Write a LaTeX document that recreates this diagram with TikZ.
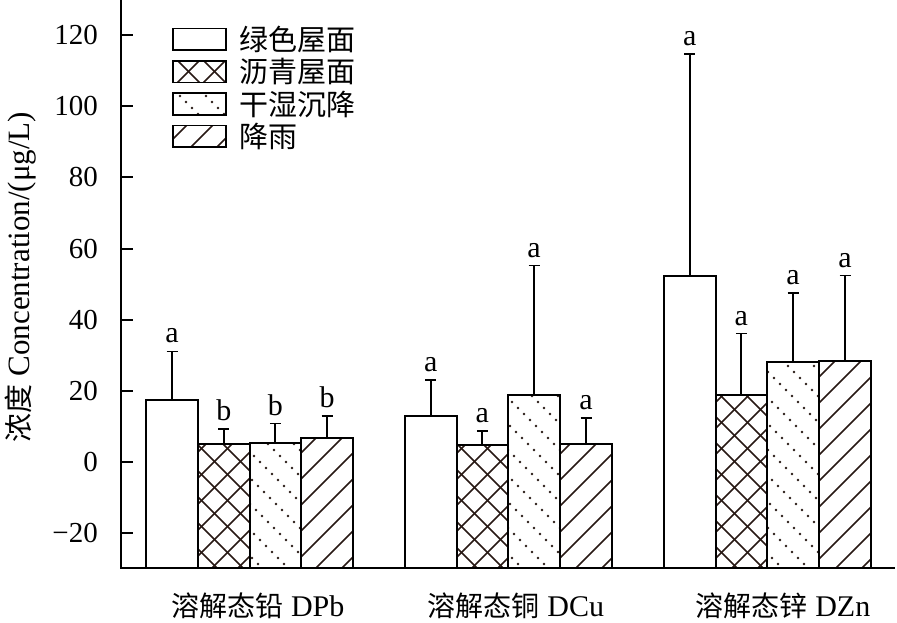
\documentclass[tikz,border=0pt]{standalone}
\usepackage{fontspec}
\setmainfont{Liberation Serif}
\newfontfamily\cjk{Noto Sans CJK SC}
\definecolor{patcol}{RGB}{40,25,20}
\tikzset{
  barline/.style={line width=2pt, black},
  legbox/.style={line width=1.6pt, black},
  patline/.style={line width=1.5pt, patcol},
  errline/.style={line width=1.6pt, black},
  axisline/.style={line width=2pt, black},
  ticklab/.style={font=\fontsize{29}{29}\selectfont, anchor=east, inner sep=0pt},
  siglab/.style={font=\fontsize{30}{30}\selectfont, anchor=base, inner sep=0pt},
  catlab/.style={font=\fontsize{30}{30}\selectfont, anchor=base, inner sep=0pt},
  leglab/.style={font=\cjk\fontsize{29}{29}\selectfont, anchor=west, inner sep=0pt},
}
\newcommand\nopat[4]{}
\newcommand\hatchNE[4]{%
  \begin{scope}
  \clip (#1,#2) rectangle (#3,#4);
  \pgfmathtruncatemacro\ks{floor((#1+#2)/26)}
  \pgfmathtruncatemacro\ke{ceil((#3+#4)/26)}
  \foreach \k in {\ks,...,\ke}{
    \pgfmathsetmacro\cc{26*\k}
    \draw[patline] (#1-5,\cc-#1+5) -- (#3+5,\cc-#3-5);
  }
  \end{scope}}
\newcommand\hatchNW[4]{%
  \begin{scope}
  \clip (#1,#2) rectangle (#3,#4);
  \pgfmathtruncatemacro\ks{floor((#1-#4)/26)-1}
  \pgfmathtruncatemacro\ke{ceil((#3-#2)/26)+1}
  \foreach \k in {\ks,...,\ke}{
    \pgfmathsetmacro\cc{26*\k+13}
    \draw[patline] (#1-5,#1-5-\cc) -- (#3+5,#3+5-\cc);
  }
  \end{scope}}
\newcommand\crosspat[4]{\hatchNE{#1}{#2}{#3}{#4}\hatchNW{#1}{#2}{#3}{#4}}
\newcommand\dotpat[4]{%
  \begin{scope}
  \clip (#1,#2) rectangle (#3,#4);
  \pgfmathtruncatemacro\ms{floor(#2/6)}
  \pgfmathtruncatemacro\me{ceil(#4/6)}
  \foreach \m in {\ms,...,\me}{
    \pgfmathsetmacro\yy{6*\m}
    \pgfmathsetmacro\cz{26*floor((#1-\yy)/26)}
    \foreach \k in {0,1,2,3}{
      \fill[patcol] (\yy+\cz+26*\k+6, \yy) circle[radius=1.3];
    }
  }
  \end{scope}}
% #1 x1, #2 x2, #3 value, #4 error top, #5 letter, #6 pattern, #7 name
\newcommand\mybar[7]{%
  \pgfmathsetmacro\yt{462-3.558*#3}
  \pgfmathsetmacro\ye{462-3.558*#4}
  \pgfmathsetmacro\xm{(#1+#2)/2}
  \draw[errline] (\xm,\yt) -- (\xm,\ye);
  \draw[errline] (\xm-5.5,\ye) -- (\xm+5.5,\ye);
  \node[siglab] (#7) at (\xm,\ye-8.5) {#5};
  #6{#1}{\yt}{#2}{568}
  \draw[barline] (#1,568) rectangle (#2,\yt);
}
\begin{document}
\begin{tikzpicture}[x=1pt,y=-1pt]
\useasboundingbox (0,0) rectangle (897,622);
% axes
\draw[axisline] (121,0) -- (121,568) -- (895,568);
\foreach \v/\t in {-20/−20,0/0,20/20,40/40,60/60,80/80,100/100,120/120}{
  \pgfmathsetmacro\ty{462-3.558*\v}
  \draw[axisline] (121,\ty) -- (133,\ty);
  \node[ticklab] (tick\v) at (98,\ty) {\t};
}
\node[rotate=90, inner sep=0pt, font=\fontsize{31}{31}\selectfont] (ylab) at (21,277)
  {{\cjk\fontsize{29}{29}\selectfont 浓度} Concentration/(μg/L)};
% group 1
\mybar{146}{198}{17.3}{31.1}{a}{\nopat}{s11}
\mybar{198}{249.5}{5.1}{9.2}{b}{\crosspat}{s12}
\mybar{249.5}{301}{5.3}{10.8}{b}{\dotpat}{s13}
\mybar{301}{353}{6.7}{13.0}{b}{\hatchNE}{s14}
% group 2
\mybar{405}{456.5}{13.0}{23.1}{a}{\nopat}{s21}
\mybar{456.5}{508}{4.8}{8.7}{a}{\crosspat}{s22}
\mybar{508}{560}{18.7}{55.2}{a}{\dotpat}{s23}
\mybar{560}{612}{5.1}{12.3}{a}{\hatchNE}{s24}
% group 3
\mybar{664}{715.5}{52.2}{114.7}{a}{\nopat}{s31}
\mybar{715.5}{767}{18.7}{36.1}{a}{\crosspat}{s32}
\mybar{767}{819}{28.2}{47.5}{a}{\dotpat}{s33}
\mybar{819}{871}{28.5}{52.4}{a}{\hatchNE}{s34}
% category labels
\node[catlab] (c1) at (258,616) {{\cjk\fontsize{28}{28}\selectfont 溶解态铅} DPb};
\node[catlab] (c2) at (516,616) {{\cjk\fontsize{28}{28}\selectfont 溶解态铜} DCu};
\node[catlab] (c3) at (783,616) {{\cjk\fontsize{28}{28}\selectfont 溶解态锌} DZn};
% legend
\draw[legbox] (173,28.3) rectangle (226,50);
\crosspat{173}{60.7}{226}{82.4}
\draw[legbox] (173,60.7) rectangle (226,82.4);
\dotpat{173}{93.1}{226}{114.8}
\draw[legbox] (173,93.1) rectangle (226,114.8);
\hatchNE{173}{125.5}{226}{147.2}
\draw[legbox] (173,125.5) rectangle (226,147.2);
\node[leglab] (l1) at (239,39.2) {绿色屋面};
\node[leglab] (l2) at (239,71.6) {沥青屋面};
\node[leglab] (l3) at (239,104) {干湿沉降};
\node[leglab] (l4) at (239,136.4) {降雨};
\end{tikzpicture}
\end{document}
